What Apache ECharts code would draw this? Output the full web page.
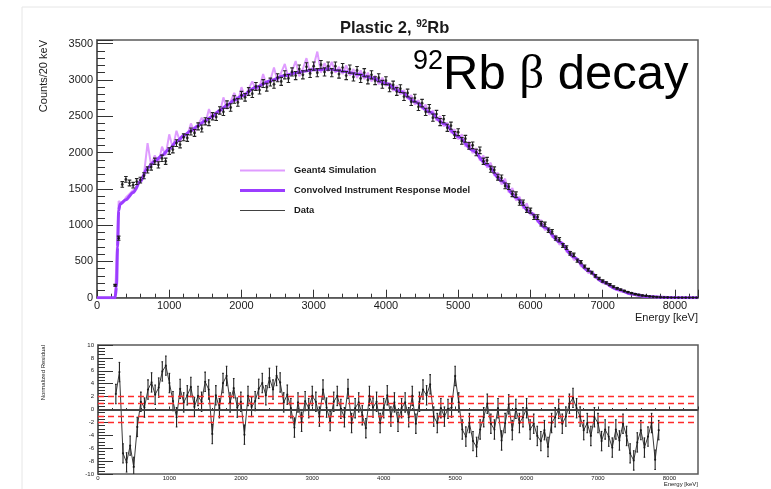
<!DOCTYPE html>
<html>
<head>
<meta charset="utf-8">
<script src="https://cdn.jsdelivr.net/npm/echarts@6/dist/echarts.min.js"></script>
<style>
  html, body { margin: 0; padding: 0; background: #fff; }
  #chart { width: 771px; height: 489px; }
</style>
</head>
<body>
<div id="chart"></div>
<script>
// ---- Binning of the spectra (keV) ----
const binStart = 250;
const binWidth = 50;

// Measured spectrum, counts per 20 keV, one value per bin (rows of 500 keV)
const dataCounts = [
  170, 820, 1560, 1630, 1580, 1550, 1600, 1620, 1680, 1760,
  1800, 1880, 1830, 1920, 1880, 2020, 2040, 2130, 2110, 2210,
  2200, 2290, 2270, 2360, 2330, 2430, 2420, 2500, 2490, 2580,
  2560, 2660, 2620, 2730, 2690, 2790, 2760, 2840, 2810, 2910,
  2860, 2950, 2900, 2970, 2940, 3030, 2980, 3070, 3020, 3110,
  3060, 3150, 3070, 3180, 3090, 3190, 3100, 3210, 3110, 3190,
  3100, 3190, 3080, 3170, 3060, 3150, 3040, 3130, 3020, 3100,
  3000, 3070, 2990, 3030, 2940, 2990, 2890, 2930, 2840, 2880,
  2770, 2820, 2700, 2750, 2630, 2680, 2560, 2610, 2480, 2530,
  2420, 2460, 2340, 2370, 2240, 2280, 2160, 2190, 2090, 2100,
  2000, 2030, 1880, 1890, 1770, 1760, 1660, 1650, 1540, 1530,
  1430, 1420, 1310, 1310, 1210, 1200, 1110, 1110, 1020, 1010,
  930, 910, 820, 800, 720, 690, 610, 590, 510, 490,
  430, 385, 345, 300, 265, 230, 205, 180, 150, 130,
  110, 92, 76, 62, 50, 40, 31, 24, 18, 13,
  9, 6, 4, 3, 2, 2, 1, 1, 1, 0,
  1, 0
];

// Geant4 simulated spectrum, same bins
const simCounts = [
  0, 1330, 1300, 1380, 1430, 1480, 1500, 1640, 1700, 2130,
  1820, 1960, 1850, 2080, 1960, 2250, 2060, 2300, 2150, 2250,
  2230, 2400, 2280, 2380, 2480, 2400, 2600, 2460, 2560, 2540,
  2760, 2600, 2700, 2820, 2700, 2900, 2760, 2880, 2980, 2860,
  2900, 3080, 2920, 3000, 3170, 2980, 3100, 3220, 3030, 3120,
  3260, 3050, 3150, 3300, 3100, 3200, 3390, 3100, 3230, 3120,
  3250, 3100, 3180, 3080, 3200, 3060, 3150, 3030, 3130, 3010,
  3100, 2980, 3060, 2940, 3030, 2920, 2960, 2850, 2920, 2800,
  2860, 2740, 2790, 2660, 2720, 2600, 2660, 2520, 2580, 2440,
  2500, 2360, 2410, 2270, 2320, 2180, 2250, 2080, 2150, 1990,
  2060, 1890, 1960, 1790, 1860, 1680, 1720, 1560, 1640, 1450,
  1510, 1340, 1390, 1230, 1300, 1140, 1160, 1040, 1070, 930,
  960, 830, 860, 730, 760, 630, 640, 520, 540, 430,
  440, 340, 350, 270, 270, 200, 200, 150, 140, 105,
  85, 80, 55, 50, 35, 32, 22, 18, 12, 9,
  6, 4, 3, 2, 1, 1, 0, 1, 0, 0,
  0, 0
];

// Convolved instrument response model (energy keV, counts)
const modelEnergy = [0, 250, 270, 285, 300, 320, 400, 500, 600, 700, 800, 900, 1000, 1100, 1200, 1300, 1400, 1500, 1600, 1700, 1800, 1900, 2000, 2200, 2400, 2600, 2800, 3000, 3200, 3400, 3600, 3800, 4000, 4200, 4400, 4600, 4800, 5000, 5200, 5400, 5600, 5800, 6000, 6200, 6400, 6600, 6800, 7000, 7200, 7400, 7600, 7800, 8000, 8320];
const modelCounts = [0, 0, 150, 700, 1200, 1290, 1350, 1450, 1600, 1790, 1880, 1960, 2050, 2150, 2230, 2300, 2370, 2440, 2500, 2580, 2650, 2720, 2780, 2900, 2990, 3060, 3110, 3140, 3150, 3120, 3080, 3030, 2950, 2840, 2700, 2560, 2400, 2220, 2030, 1830, 1610, 1380, 1170, 970, 770, 560, 370, 220, 115, 50, 18, 5, 1, 0];

// Normalized residuals, same bins (up to 7850 keV)
const residuals = [
  2.4, 5.8, -6.8, -8.2, -5.6, -8.9, -2.7, 1.2, 0.3, 3.1,
  4.2, 2.3, 3.4, 5.9, 6.8, 4.1, 1.3, -1.2, 3.2, 1.1,
  2.2, 3.5, 0.4, 2.1, 1.2, 4.3, 3.1, -3.8, 2.2, 0.2,
  4.1, 5.2, 1.1, 3.3, 0.3, 1.2, -3.9, 2.1, 0.4, 1.3,
  3.2, 4.1, 2.2, 4.9, 3.1, 5.2, 4.2, 1.1, 2.3, 0.2,
  -2.8, 1.1, -1.9, 1.3, 0.2, 2.1, 1.2, -1.1, 3.1, 0.3,
  -1.8, 1.2, 2.1, 0.1, -1.2, 3.2, -2.1, 0.2, 1.1, -0.9,
  -2.9, 2.1, 0.3, 1.2, -2.1, 0.2, 2.2, -1.1, 1.1, -1.9,
  0.2, 1.1, -1.2, 2.1, -2.2, 1.2, 3.1, 2.2, 3.9, -1.1,
  -2.1, 0.2, -1.1, 0.1, 0.3, 5.2, 1.1, -3.1, -4.2, -2.1,
  -4.9, -5.8, -3.1, -1.2, 0.9, -2.2, -3.1, 0.2, -4.8, -2.1,
  0.8, -3.2, 0.1, -2.1, -1.2, 0.2, -3.1, -2.2, -4.1, -4.9,
  -3.2, -5.8, -2.1, -1.2, 0.1, -2.2, -1.1, 0.9, 1.8, 0.2,
  -1.1, -3.2, -2.1, -4.1, -1.2, -2.1, -4.9, -3.1, -4.2, -5.9,
  -3.1, -4.8, -2.2, -4.1, -6.8, -7.9, -5.1, -3.2, -5.9, -4.2,
  -2.1, -7.8, -3.2
];

// Axis ranges and tick steps
const energyMaxTop = 8320;
const energyMaxBottom = 8400;
const energyStep = 1000;
const countsMax = 3550;
const countsStep = 500;
const residualMin = -10;
const residualMax = 10;
const residualStep = 2;
const residualBands = [2, 1, -1, -2];

const FONT = "'Liberation Sans', Arial, Helvetica, sans-serif";
const INK = '#1a1a1a';
const FRAME = '#5a5a5a';
const plain = v => String(v);

const binCenter = i => binStart + i * binWidth;
const dataPts = dataCounts.map((v, i) => [binCenter(i), v]);
const dataErr = dataCounts.map((v, i) => [binCenter(i), v, Math.sqrt(v)]);
const simPts = simCounts.map((v, i) => [binCenter(i), v]);
const modelPts = modelEnergy.map((e, i) => [e, modelCounts[i]]);
const residPts = residuals.map((v, i) => [binCenter(i), v]);
const residErr = residuals.map((v, i) => [binCenter(i), v, 1.5]);

function errorBars(color, width, cap) {
  return function (params, api) {
    const x = api.value(0), y = api.value(1), e = api.value(2);
    const hi = api.coord([x, y + e]);
    const lo = api.coord([x, y - e]);
    const st = { stroke: color, lineWidth: width };
    return {
      type: 'group',
      children: [
        { type: 'line', shape: { x1: hi[0], y1: hi[1], x2: lo[0], y2: lo[1] }, style: st },
        { type: 'line', shape: { x1: hi[0] - cap, y1: hi[1], x2: hi[0] + cap, y2: hi[1] }, style: st },
        { type: 'line', shape: { x1: lo[0] - cap, y1: lo[1], x2: lo[0] + cap, y2: lo[1] }, style: st }
      ]
    };
  };
}

const legendBase = {
  orient: 'vertical',
  left: 240,
  padding: 0,
  itemWidth: 45,
  icon: 'rect',
  selectedMode: false,
  textStyle: { fontFamily: FONT, fontSize: 9.4, fontWeight: 'bold', color: INK, padding: [0, 0, 0, 4] }
};

const chart = echarts.init(document.getElementById('chart'), null, { renderer: 'canvas' });

chart.setOption({
  backgroundColor: '#ffffff',
  animation: false,
  title: {
    left: 340,
    top: 19,
    padding: 0,
    text: '{a|Plastic 2, }{b|92}{a|Rb}',
    textStyle: {
      rich: {
        a: { fontFamily: FONT, fontSize: 16.5, fontWeight: 'bold', color: INK, lineHeight: 19 },
        b: { fontFamily: FONT, fontSize: 10, fontWeight: 'bold', color: INK, verticalAlign: 'top', lineHeight: 19 }
      }
    }
  },
  legend: [
    Object.assign({}, legendBase, { top: 166, itemHeight: 2, data: ['Geant4 Simulation'] }),
    Object.assign({}, legendBase, { top: 186, itemHeight: 3, data: ['Convolved Instrument Response Model'] }),
    Object.assign({}, legendBase, { top: 206, itemHeight: 1, data: ['Data'] })
  ],
  graphic: [
    {
      type: 'rect', silent: true, z: -10,
      shape: { x: 22, y: 7, width: 800, height: 500 },
      style: { fill: 'none', stroke: '#e6e6e6', lineWidth: 1 }
    },
    {
      type: 'text', left: 413, top: 48, z: 10,
      style: {
        text: '{s|92}{m|Rb }{g|β}{m| decay}',
        rich: {
          s: { fontFamily: FONT, fontSize: 27, fill: '#000', verticalAlign: 'top', lineHeight: 54 },
          m: { fontFamily: FONT, fontSize: 49, fill: '#000', lineHeight: 54 },
          g: { fontFamily: "'Liberation Serif', 'DejaVu Serif', serif", fontSize: 49, fill: '#000', lineHeight: 54 }
        }
      }
    },
    {
      type: 'text', x: 44, y: 40, rotation: Math.PI / 2,
      style: { text: 'Counts/20 keV', fontFamily: FONT, fontSize: 11, fill: INK, align: 'right', verticalAlign: 'middle' }
    },
    {
      type: 'text', x: 698, y: 318,
      style: { text: 'Energy [keV]', fontFamily: FONT, fontSize: 11, fill: INK, align: 'right', verticalAlign: 'middle' }
    },
    {
      type: 'text', x: 43, y: 345, rotation: Math.PI / 2,
      style: { text: 'Normalized Residual', fontFamily: FONT, fontSize: 6, fill: INK, align: 'right', verticalAlign: 'middle' }
    },
    {
      type: 'text', x: 698, y: 484,
      style: { text: 'Energy [keV]', fontFamily: FONT, fontSize: 6, fill: INK, align: 'right', verticalAlign: 'middle' }
    }
  ],
  grid: [
    { left: 97, top: 40, width: 601, height: 257.7, show: true, borderColor: FRAME, borderWidth: 1.5, backgroundColor: 'transparent' },
    { left: 98, top: 345, width: 600, height: 129, show: true, borderColor: FRAME, borderWidth: 1.5, backgroundColor: 'transparent' }
  ],
  xAxis: [
    {
      gridIndex: 0, type: 'value', min: 0, max: energyMaxTop, interval: energyStep,
      axisLine: { show: true, lineStyle: { color: FRAME, width: 1.5 } },
      axisTick: { show: true, inside: true, length: 8, lineStyle: { color: '#333', width: 1 } },
      minorTick: { show: true, splitNumber: 5, length: 4, lineStyle: { color: '#333', width: 1 } },
      splitLine: { show: false },
      axisLabel: { show: true, margin: 3, fontFamily: FONT, fontSize: 11, color: INK, showMaxLabel: false, showMinLabel: true, formatter: plain }
    },
    {
      gridIndex: 1, type: 'value', min: 0, max: energyMaxBottom, interval: energyStep,
      axisLine: { show: true, lineStyle: { color: FRAME, width: 1.5 } },
      axisTick: { show: true, inside: true, length: 3, lineStyle: { color: '#333', width: 1 } },
      minorTick: { show: true, splitNumber: 5, length: 1.5, lineStyle: { color: '#333', width: 1 } },
      splitLine: { show: false },
      axisLabel: { show: true, margin: 1, fontFamily: FONT, fontSize: 6, color: INK, showMaxLabel: false, showMinLabel: true, formatter: plain }
    }
  ],
  yAxis: [
    {
      gridIndex: 0, type: 'value', min: 0, max: countsMax, interval: countsStep,
      axisLine: { show: true, lineStyle: { color: FRAME, width: 1.5 } },
      axisTick: { show: true, inside: true, length: 16, lineStyle: { color: '#333', width: 1 } },
      minorTick: { show: true, splitNumber: 5, length: 8, lineStyle: { color: '#333', width: 1 } },
      splitLine: { show: false },
      axisLabel: { show: true, margin: 4, fontFamily: FONT, fontSize: 11, color: INK, showMaxLabel: false, showMinLabel: true, formatter: plain }
    },
    {
      gridIndex: 1, type: 'value', min: residualMin, max: residualMax, interval: residualStep,
      axisLine: { show: true, lineStyle: { color: FRAME, width: 1.5 } },
      axisTick: { show: true, inside: true, length: 15, lineStyle: { color: '#333', width: 1 } },
      minorTick: { show: true, splitNumber: 4, length: 7, lineStyle: { color: '#333', width: 1 } },
      splitLine: { show: false },
      axisLabel: { show: true, margin: 4, fontFamily: FONT, fontSize: 6, color: INK, showMaxLabel: true, showMinLabel: true, formatter: plain }
    }
  ],
  series: [
    {
      name: 'Geant4 Simulation', type: 'line',
      xAxisIndex: 0, yAxisIndex: 0, data: simPts,
      showSymbol: false, symbol: 'none', z: 2, clip: true,
      color: '#df9cff',
      lineStyle: { color: '#df9cff', width: 2 }
    },
    {
      name: 'Convolved Instrument Response Model', type: 'line',
      xAxisIndex: 0, yAxisIndex: 0, data: modelPts,
      smooth: 0.3, smoothMonotone: 'x',
      showSymbol: false, symbol: 'none', z: 3, clip: true,
      color: '#9b3dff',
      lineStyle: { color: '#9b3dff', width: 3 }
    },
    {
      name: 'Data errors', type: 'custom',
      xAxisIndex: 0, yAxisIndex: 0, data: dataErr,
      encode: { x: 0, y: 1 }, z: 4, clip: true, silent: true,
      renderItem: errorBars('#222', 1.1, 1.8)
    },
    {
      name: 'Data', type: 'scatter',
      xAxisIndex: 0, yAxisIndex: 0, data: dataPts,
      symbol: 'circle', symbolSize: 2.8, z: 5,
      color: '#111',
      itemStyle: { color: '#111' }
    },
    {
      name: 'Residual trace', type: 'line',
      xAxisIndex: 1, yAxisIndex: 1, data: residPts,
      showSymbol: false, symbol: 'none', z: 3, clip: true,
      lineStyle: { color: '#3a3a3a', width: 1 },
      markLine: {
        silent: true, symbol: 'none', label: { show: false },
        data: residualBands.map(v => ({ yAxis: v, lineStyle: { color: '#ff2a2a', width: 1.3, type: [6, 4] } }))
          .concat([{ yAxis: 0, lineStyle: { color: '#444', width: 2, type: 'solid' } }])
      }
    },
    {
      name: 'Residual errors', type: 'custom',
      xAxisIndex: 1, yAxisIndex: 1, data: residErr,
      encode: { x: 0, y: 1 }, z: 4, clip: true, silent: true,
      renderItem: errorBars('#222', 1.1, 0.8)
    },
    {
      name: 'Residual', type: 'scatter',
      xAxisIndex: 1, yAxisIndex: 1, data: residPts,
      symbol: 'circle', symbolSize: 2.2, z: 5,
      itemStyle: { color: '#111' }
    }
  ]
});
</script>
</body>
</html>
